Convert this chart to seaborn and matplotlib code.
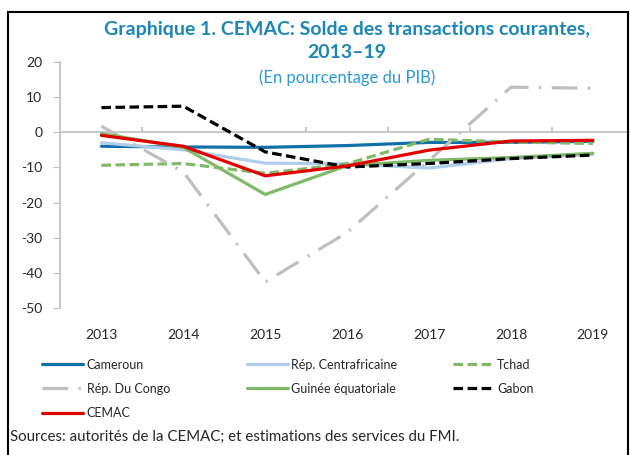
import pandas as pd
import matplotlib
matplotlib.use("Agg")
import matplotlib.pyplot as plt
import seaborn as sns
from matplotlib.patches import Rectangle

# data (percent of GDP)
years = ["2013", "2014", "2015", "2016", "2017", "2018", "2019"]
cameroun = [-4.0, -4.2, -4.3, -3.8, -2.9, -2.9, -2.6]
centrafrique = [-3.0, -5.0, -8.8, -9.0, -10.2, -7.5, -6.3]
tchad = [-9.4, -8.9, -11.7, -9.0, -2.0, -2.8, -3.2]
congo = [1.7, -11.3, -42.6, -28.5, -8.0, 12.8, 12.5]
guinee = [-0.4, -4.3, -17.7, -9.5, -8.0, -7.2, -6.0]
gabon = [7.0, 7.4, -5.6, -9.9, -8.9, -7.5, -6.5]
cemac = [-0.9, -4.0, -12.4, -9.6, -5.1, -2.5, -2.3]

series = {
    "Cameroun": cameroun,
    "Rép. Centrafricaine": centrafrique,
    "Tchad": tchad,
    "Rép. Du Congo": congo,
    "Guinée équatoriale": guinee,
    "Gabon": gabon,
    "CEMAC": cemac,
}
colors = {
    "Cameroun": "#1170A8",
    "Rép. Centrafricaine": "#B0CDEA",
    "Tchad": "#80BA68",
    "Rép. Du Congo": "#BFBFBF",
    "Guinée équatoriale": "#80BA68",
    "Gabon": "#000000",
    "CEMAC": "#E00000",
}
dashes = {
    "Cameroun": "",
    "Rép. Centrafricaine": "",
    "Tchad": (3, 1.4),
    "Rép. Du Congo": (8, 3.3, 0.7, 3.3),
    "Guinée équatoriale": "",
    "Gabon": (3, 1.4),
    "CEMAC": "",
}

rows = []
for name, vals in series.items():
    for i, v in enumerate(vals):
        rows.append({"pays": name, "x": i, "valeur": v})
df = pd.DataFrame(rows)

sns.set_style("white")
plt.rcParams["font.family"] = ["Lato", "DejaVu Sans"]
plt.rcParams["axes.unicode_minus"] = False

fig = plt.figure(figsize=(6.3, 4.55), dpi=100)
ax = fig.add_axes([0.096, 0.323, 0.91, 0.541])

ax.axhline(0, color="#BFBFBF", lw=1.2, zorder=1)
sns.lineplot(data=df, x="x", y="valeur", hue="pays", style="pays",
             palette=colors, dashes=dashes, linewidth=2.3,
             hue_order=list(series), style_order=list(series), ax=ax)

handles, labels = ax.get_legend_handles_labels()
ax.get_legend().remove()
hmap = dict(zip(labels, handles))
for name, h in hmap.items():
    h.set_linewidth(2.3)

ax.set_xlim(-0.5, 6.5)
ax.set_ylim(-50, 20)
ax.set_yticks(range(-50, 21, 10))
ax.set_xticks(range(len(years)))
ax.set_xticklabels(years, fontsize=10)
ax.tick_params(axis="x", length=0, pad=15)
ax.tick_params(axis="y", direction="out", length=5, color="#BFBFBF",
               labelsize=10, pad=8, left=True)
ax.set_xlabel("")
ax.set_ylabel("")
for s in ["top", "right", "bottom"]:
    ax.spines[s].set_visible(False)
ax.spines["left"].set_color("#BFBFBF")
ax.spines["left"].set_linewidth(1.2)
# small category separators on the zero line
ax.vlines([i + 0.5 for i in range(len(years) - 1)], 0, 1.6,
          color="#BFBFBF", lw=1.2, zorder=1)

fig.text(0.551, 0.935, "Graphique 1. CEMAC: Solde des transactions courantes,",
         ha="center", va="center", fontsize=14, fontweight="bold", color="#1B86B8")
fig.text(0.551, 0.884, "2013–19", ha="center", va="center",
         fontsize=14, fontweight="bold", color="#1B86B8")
fig.text(0.551, 0.829, "(En pourcentage du PIB)", ha="center", va="center",
         fontsize=12, color="#2A9AD6")

cols = [["Cameroun", "Rép. Du Congo", "CEMAC"],
        ["Rép. Centrafricaine", "Guinée équatoriale"],
        ["Tchad", "Gabon"]]
xs = [0.067, 0.392, 0.719]
for names, x0 in zip(cols, xs):
    leg = fig.legend([hmap[n] for n in names], names, loc="upper left",
                     bbox_to_anchor=(x0, 0.212), frameon=False, fontsize=9,
                     handlelength=3.25, handletextpad=0.3, labelspacing=0.98,
                     borderpad=0, borderaxespad=0)

fig.text(0.016, 0.04, "Sources: autorités de la CEMAC; et estimations des services du FMI.",
         ha="left", va="center", fontsize=10.8)

fig.patches.append(Rectangle((0.013, -0.1), 0.984, 1.073, transform=fig.transFigure,
                             fill=False, edgecolor="black", lw=1.5))

plt.savefig("out.png", dpi=100)
